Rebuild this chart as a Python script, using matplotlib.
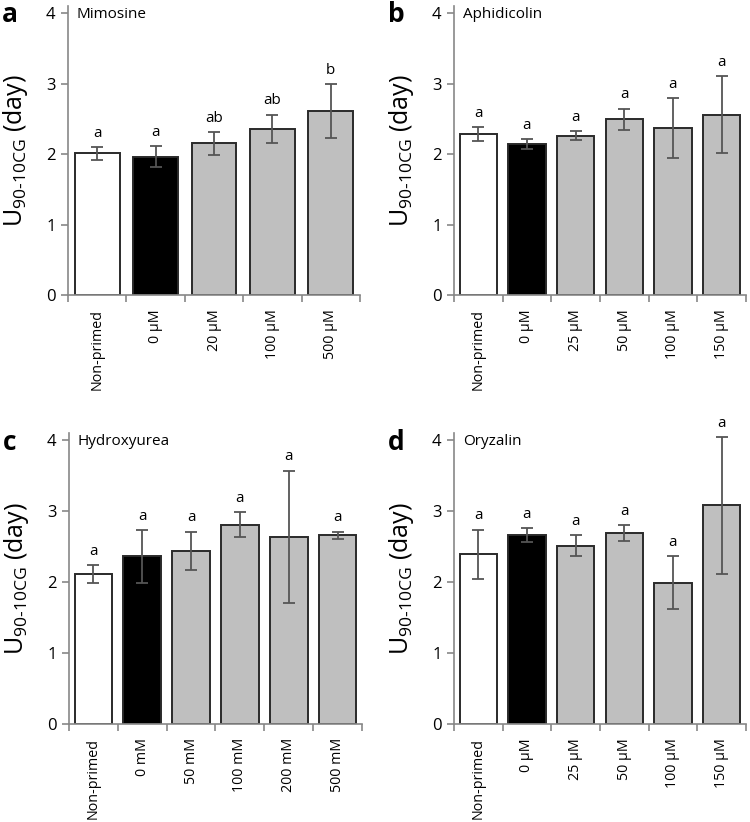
import matplotlib.pyplot as plt

plt.rcParams['font.family'] = ['Open Sans', 'DejaVu Sans']
plt.rcParams['mathtext.fontset'] = 'custom'
plt.rcParams['mathtext.rm'] = 'Open Sans'
plt.rcParams['mathtext.it'] = 'Open Sans'

# data
mim_labels = ["Non-primed", "0 µM", "20 µM", "100 µM", "500 µM"]
mim_means = [2.01, 1.96, 2.15, 2.36, 2.61]
mim_err = [0.09, 0.15, 0.16, 0.20, 0.38]
mim_sig = ["a", "a", "ab", "ab", "b"]

aph_labels = ["Non-primed", "0 µM", "25 µM", "50 µM", "100 µM", "150 µM"]
aph_means = [2.28, 2.14, 2.26, 2.49, 2.37, 2.56]
aph_err = [0.10, 0.07, 0.06, 0.15, 0.42, 0.54]
aph_sig = ["a", "a", "a", "a", "a", "a"]

hu_labels = ["Non-primed", "0 mM", "50 mM", "100 mM", "200 mM", "500 mM"]
hu_means = [2.11, 2.36, 2.44, 2.81, 2.64, 2.66]
hu_err = [0.13, 0.37, 0.27, 0.17, 0.93, 0.05]
hu_sig = ["a", "a", "a", "a", "a", "a"]

ory_labels = ["Non-primed", "0 µM", "25 µM", "50 µM", "100 µM", "150 µM"]
ory_means = [2.39, 2.66, 2.51, 2.69, 1.99, 3.08]
ory_err = [0.35, 0.10, 0.15, 0.11, 0.37, 0.96]
ory_sig = ["a", "a", "a", "a", "a", "a"]

fig = plt.figure(figsize=(7.5, 8.22), dpi=100)

W, H = 750, 822


def panel(rect_px, letter, title, labels, means, err, sig):
    left, bottom, right, top = rect_px
    ax = fig.add_axes([left / W, 1 - bottom / H, (right - left) / W, (bottom - top) / H])
    n = len(means)
    x = list(range(n))
    colors = ["white", "black"] + ["#bfbfbf"] * (n - 2)
    ax.bar(x, means, width=0.77, color=colors, edgecolor="#2a2a2a", linewidth=1.4, zorder=2)
    ax.errorbar(x, means, yerr=err, fmt="none", ecolor="#555555", elinewidth=1.3,
                capsize=4, capthick=1.3, zorder=3)
    for xi, m, e, s in zip(x, means, err, sig):
        ax.annotate(s, (xi, m + e), xytext=(0, 7.5), textcoords="offset points",
                    ha="center", va="baseline", fontsize=11, annotation_clip=False)
    ax.set_xlim(-0.5, n - 0.5)
    ax.set_ylim(0, 4.1)
    ax.set_yticks([0, 1, 2, 3, 4])
    ax.set_xticks([i - 0.5 for i in range(n + 1)])
    ax.set_xticklabels([])
    ax.set_xticks(x, minor=True)
    ax.set_xticklabels(labels, minor=True, rotation=90, fontsize=10.3)
    ax.tick_params(axis="x", which="minor", length=0, pad=10)
    ax.tick_params(axis="x", which="major", length=5, color="#878787", width=1.2)
    ax.tick_params(axis="y", length=5, color="#878787", width=1.2, labelsize=12, pad=4)
    for side in ["top", "right"]:
        ax.spines[side].set_visible(False)
    for side in ["left", "bottom"]:
        ax.spines[side].set_color("#878787")
        ax.spines[side].set_linewidth(1.2)
    ax.set_ylabel(r"U$_{\mathrm{90\text{-}10CG}}$ (day)", fontsize=18)
    ax.yaxis.set_label_coords(-0.13, 0.5)
    ax.text(0.03, 0.97, title, transform=ax.transAxes, fontsize=11, ha="left", va="center")
    fig.text((left - 66) / W, 1 - (top + 9) / H, letter, fontsize=19, fontweight="bold",
             ha="left", va="center")
    return ax


panel((68, 295, 360, 6), "a", "Mimosine", mim_labels, mim_means, mim_err, mim_sig)
panel((454, 295, 746, 6), "b", "Aphidicolin", aph_labels, aph_means, aph_err, aph_sig)
panel((69, 724, 362, 433), "c", "Hydroxyurea", hu_labels, hu_means, hu_err, hu_sig)
panel((454, 724, 746, 433), "d", "Oryzalin", ory_labels, ory_means, ory_err, ory_sig)

fig.savefig("out.png", dpi=100)
